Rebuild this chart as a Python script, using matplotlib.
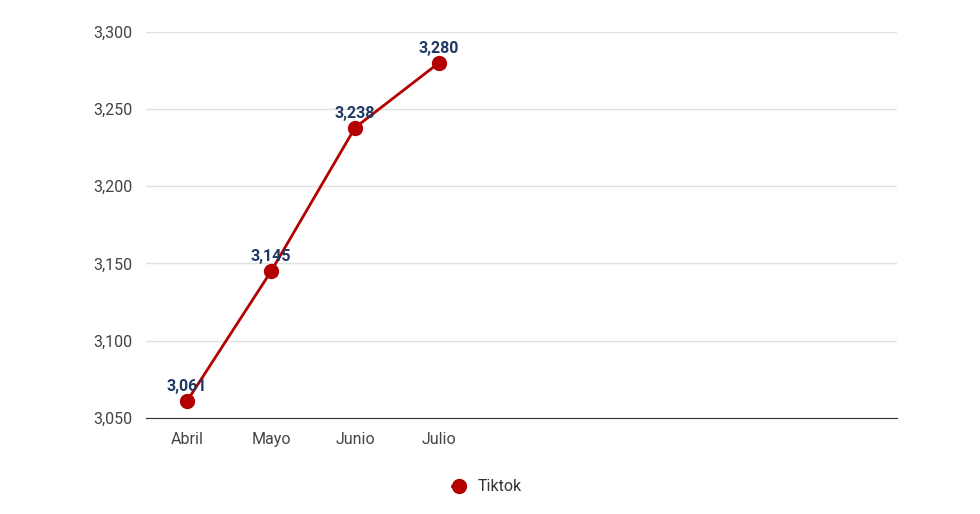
import matplotlib.pyplot as plt
from matplotlib.ticker import FuncFormatter

plt.rcParams['font.family'] = ['Roboto', 'DejaVu Sans']

months = ["Abril", "Mayo", "Junio", "Julio"]
tiktok = [3061, 3145, 3238, 3280]
yticks = [3050, 3100, 3150, 3200, 3250, 3300]

fig = plt.figure(figsize=(9.8, 5.14), dpi=100)
ax = fig.add_axes([0.149, 0.187, 0.766, 0.751])

x = list(range(len(months)))
ax.plot(x, tiktok, color='#b30000', linewidth=2, marker='o', markersize=10,
        label='Tiktok', zorder=3)
for xi, v in zip(x, tiktok):
    ax.annotate(f"{v:,}", (xi, v), xytext=(0, 5), textcoords='offset points',
                ha='center', va='bottom', fontsize=11.5, fontweight='bold',
                color='#1f3864', zorder=4)

ax.set_xlim(-0.49, 8.45)
ax.set_ylim(3050, 3300)
ax.set_xticks(x)
ax.set_xticklabels(months)
ax.set_yticks(yticks)
ax.yaxis.set_major_formatter(FuncFormatter(lambda v, p: f"{int(v):,}"))
ax.grid(axis='y', color='#e0e0e0', linewidth=1)
ax.set_axisbelow(True)
for s in ['top', 'right', 'left']:
    ax.spines[s].set_visible(False)
ax.spines['bottom'].set_color('#333333')
ax.tick_params(length=0, labelsize=11.5, colors='#444444', pad=10)

fig.legend(loc='lower center', bbox_to_anchor=(0.497, 0.01), frameon=False,
           fontsize=11.5, handlelength=0.8, markerscale=1.0, labelcolor='#333333')
fig.savefig('out.png', dpi=100)
